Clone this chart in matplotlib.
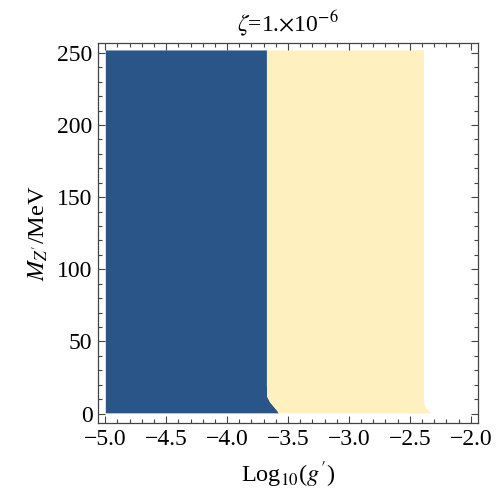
import matplotlib
matplotlib.use("Agg")
import matplotlib.pyplot as plt
from matplotlib.ticker import MultipleLocator, FuncFormatter

plt.rcParams["font.family"] = ["Liberation Serif", "DejaVu Serif"]
plt.rcParams["mathtext.fontset"] = "stix"

# boundaries of the two regions
mass_blue = [0.5, 2, 5, 8, 12, 20, 100, 252]
blue_left = [-5.0, -5.0, -5.0, -5.0, -5.0, -5.0, -5.0, -5.0]
blue_right = [-3.58, -3.59, -3.62, -3.65, -3.675, -3.677, -3.677, -3.677]

mass_yellow = [0.5, 2, 4, 7, 10, 100, 252]
yellow_right = [-2.33, -2.345, -2.37, -2.385, -2.388, -2.388, -2.388]

blue = "#2a5588"
yellow = "#fff1bf"

fig = plt.figure(figsize=(5, 4.97), dpi=100)
ax = fig.add_axes([0.196, 0.149, 0.76, 0.765])

ax.fill_betweenx(mass_blue, blue_left, blue_right, color=blue, lw=0)
# yellow sits between the blue edge and its own right edge
ax.fill_betweenx(mass_blue, blue_right, [-2.388] * len(mass_blue), color=yellow, lw=0)
ax.fill_betweenx(mass_yellow, [-2.5] * len(mass_yellow), yellow_right, color=yellow, lw=0)

ax.set_xlim(-5.06, -1.94)
ax.set_ylim(-6.5, 257)

ax.xaxis.set_major_locator(MultipleLocator(0.5))
ax.xaxis.set_minor_locator(MultipleLocator(0.1))
ax.yaxis.set_major_locator(MultipleLocator(50))
ax.yaxis.set_minor_locator(MultipleLocator(10))
ax.xaxis.set_major_formatter(FuncFormatter(lambda v, p: f"{v:.1f}".replace("-", "\u2212")))

ax.tick_params(which="both", direction="in", top=True, right=True, width=0.8, color="#444444", labelsize=17)
ax.tick_params(which="major", length=5, pad=4)
ax.tick_params(which="minor", length=3)
for s in ax.spines.values():
    s.set_color("#444444")
    s.set_linewidth(0.9)

ax.set_title(r"$\zeta$=1.$\times$10$^{-6}$", fontsize=17, pad=8)
ax.set_xlabel(r"Log$_{10}$($g^{\prime}$)", fontsize=17.5, labelpad=7)
ax.set_ylabel(r"$M_{Z^{\prime}}$/MeV", fontsize=17.5, labelpad=5)

plt.savefig("out.png", dpi=100)
plt.close()
